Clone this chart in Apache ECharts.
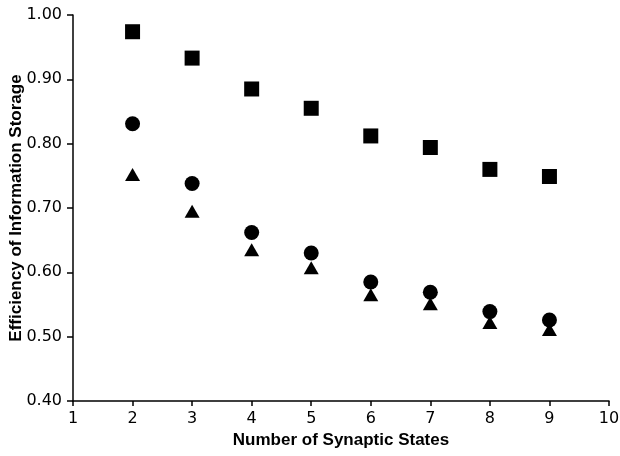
<!DOCTYPE html>
<html>
<head>
<meta charset="utf-8">
<script src="https://cdn.jsdelivr.net/npm/echarts@6/dist/echarts.min.js"></script>
<style>html,body{margin:0;padding:0;background:#fff;}#c{width:620px;height:456px;}</style>
</head>
<body>
<div id="c"></div>
<script>
var states = [2, 3, 4, 5, 6, 7, 8, 9];
var squareVals = [0.974, 0.933, 0.885, 0.855, 0.812, 0.794, 0.760, 0.749];
var circleVals = [0.831, 0.738, 0.662, 0.630, 0.585, 0.569, 0.539, 0.526];
var triangleVals = [0.752, 0.695, 0.635, 0.607, 0.565, 0.551, 0.522, 0.511];
var xTitle = 'Number of Synaptic States';
var yTitle = 'Efficiency of Information Storage';

function pairs(vals){ return states.map(function(s,i){ return [s, vals[i]]; }); }

var chart = echarts.init(document.getElementById('c'), null, {renderer:'canvas'});
var titleFont = 'Liberation Sans';
var labelFont = 'DejaVu Sans';
chart.setOption({
  animation:false,
  backgroundColor:'#fff',
  grid:{left:73, right:11, top:15, bottom:55, containLabel:false, outerBoundsMode:'none'},
  xAxis:{
    type:'value', min:1, max:10, interval:1,
    name:xTitle, nameLocation:'middle', nameGap:31, nameMoveOverlap:false,
    nameTextStyle:{fontFamily:titleFont, fontWeight:'bold', fontSize:17, color:'#000'},
    axisLine:{onZero:false, lineStyle:{color:'#000', width:1.5}},
    axisTick:{show:true, length:5, lineStyle:{color:'#000', width:1.5}},
    axisLabel:{fontFamily:labelFont, fontSize:16, color:'#000', margin:10},
    splitLine:{show:false}
  },
  yAxis:{
    type:'value', min:0.4, max:1.0, interval:0.1,
    name:yTitle, nameLocation:'middle', nameGap:48, nameMoveOverlap:false,
    nameTextStyle:{fontFamily:titleFont, fontWeight:'bold', fontSize:17, color:'#000'},
    axisLine:{onZero:false, lineStyle:{color:'#000', width:1.5}},
    axisTick:{show:true, length:6, lineStyle:{color:'#000', width:1.5}},
    axisLabel:{fontFamily:labelFont, fontSize:16, color:'#000', margin:11,
      formatter:function(v){ return v.toFixed(2); }},
    splitLine:{show:false}
  },
  series:[
    {type:'scatter', data:pairs(squareVals), symbol:'rect', symbolSize:15, itemStyle:{color:'#000', opacity:1}},
    {type:'scatter', data:pairs(circleVals), symbol:'circle', symbolSize:15, itemStyle:{color:'#000', opacity:1}},
    {type:'scatter', data:pairs(triangleVals), symbol:'triangle', symbolSize:[15,13], itemStyle:{color:'#000', opacity:1}}
  ]
});
</script>
</body>
</html>
